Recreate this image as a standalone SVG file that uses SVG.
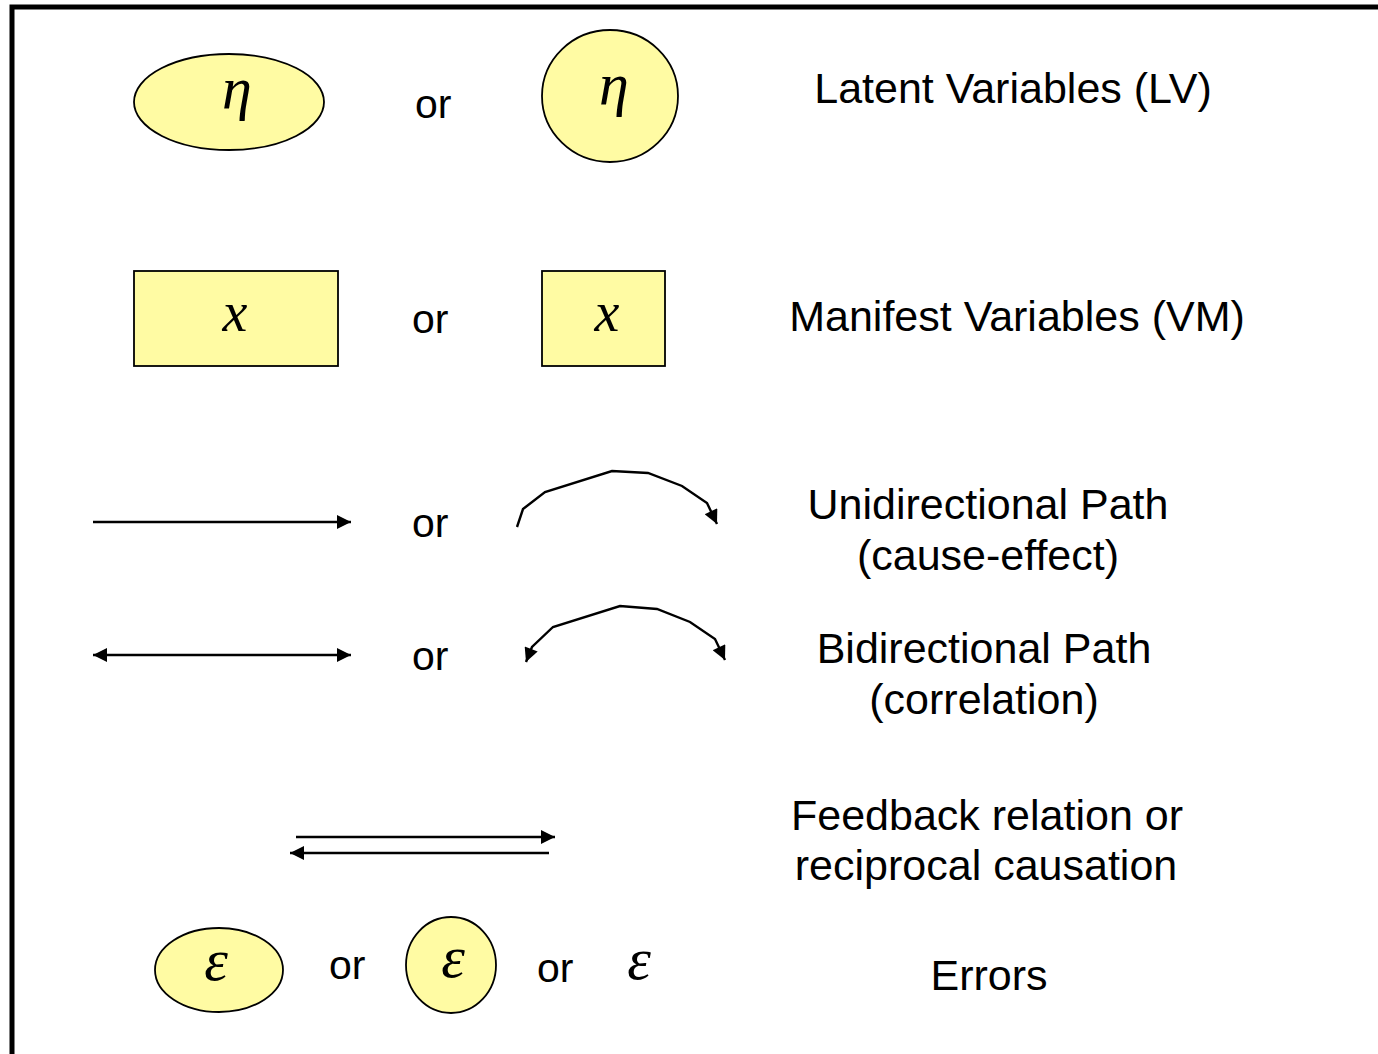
<svg xmlns="http://www.w3.org/2000/svg" width="1378" height="1054" viewBox="0 0 1378 1054">
<style>
.sh{fill:#FFFBA3;stroke:#000;stroke-width:1.8}
.t{font-family:"Liberation Sans",Arial,sans-serif;font-size:41px;fill:#000}
.l{font-family:"Liberation Sans",Arial,sans-serif;font-size:43px;fill:#000;text-anchor:middle}
.g{font-family:"Liberation Serif","Times New Roman",serif;font-style:italic;fill:#000;text-anchor:middle}
.c{fill:none;stroke:#000;stroke-width:2.4}
</style>
<defs>
<marker id="ah" viewBox="0 0 10 10" refX="10" refY="5" markerWidth="17" markerHeight="14" markerUnits="userSpaceOnUse" orient="auto-start-reverse">
<path d="M0,0 L10,5 L0,10 z" fill="#000"/>
</marker>
</defs>
<rect x="0" y="0" width="1378" height="1054" fill="#fff"/>
<path d="M12,1054 V7 H1378" fill="none" stroke="#000" stroke-width="5"/>
<g id="lv-ellipse"><ellipse class="sh" cx="229" cy="102" rx="95" ry="48"/><text class="g" x="237" y="108" font-size="60">η</text></g>
<g id="lv-circle"><ellipse class="sh" cx="610" cy="96" rx="68" ry="66"/><text class="g" x="614" y="104" font-size="60">η</text></g>
<g id="mv-rect"><rect class="sh" x="134" y="271" width="204" height="95"/><text class="g" x="235" y="331" font-size="56">x</text></g>
<g id="mv-square"><rect class="sh" x="542" y="271" width="123" height="95"/><text class="g" x="607" y="331" font-size="56">x</text></g>
<g id="err-ellipse"><ellipse class="sh" cx="219" cy="970" rx="64" ry="42"/><text class="g" x="216" y="980" font-size="60">ε</text></g>
<g id="err-circle"><ellipse class="sh" cx="451" cy="965" rx="45" ry="48"/><text class="g" x="453" y="977" font-size="60">ε</text></g>
<g id="err-plain"><text class="g" x="639" y="979" font-size="60">ε</text></g>
<g id="connectors">
<path class="c" d="M93,522 H351" marker-end="url(#ah)"/>
<path class="c" d="M93,655 H351" marker-start="url(#ah)" marker-end="url(#ah)"/>
<path class="c" d="M296,837 H555" marker-end="url(#ah)"/>
<path class="c" d="M549,853 H290" marker-end="url(#ah)"/>
<path class="c" d="M517,527 L523,509 L545,492 L612,471 L648,473 L682,486 L707,503 L717,524" marker-end="url(#ah)"/>
<path class="c" d="M526,662 L532,647 L553,627 L620,606 L657,609 L690,622 L715,639 L725,660" marker-start="url(#ah)" marker-end="url(#ah)"/>
</g>
<g id="labels">
<text class="t" x="415" y="118">or</text>
<text class="t" x="412" y="333">or</text>
<text class="t" x="412" y="537">or</text>
<text class="t" x="412" y="670">or</text>
<text class="t" x="329" y="979">or</text>
<text class="t" x="537" y="982">or</text>
<text class="l" x="1013" y="103">Latent Variables (LV)</text>
<text class="l" x="1017" y="331">Manifest Variables (VM)</text>
<text class="l" x="988" y="519">Unidirectional Path</text>
<text class="l" x="988" y="570">(cause-effect)</text>
<text class="l" x="984" y="663">Bidirectional Path</text>
<text class="l" x="984" y="714">(correlation)</text>
<text class="l" x="987" y="830">Feedback relation or</text>
<text class="l" x="986" y="880">reciprocal causation</text>
<text class="l" x="989" y="990">Errors</text>
</g>
</svg>
